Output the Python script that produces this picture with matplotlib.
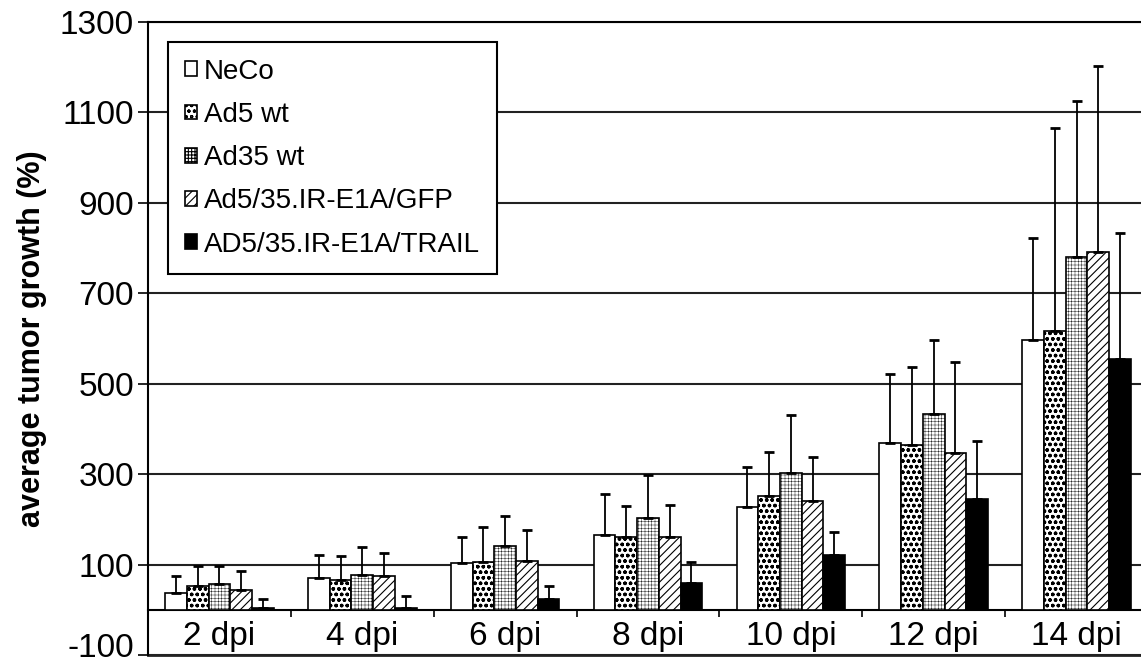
import numpy as np
import matplotlib.transforms as mtransforms
from matplotlib import pyplot as plt

plt.rcParams['font.family'] = ['Liberation Sans', 'DejaVu Sans']
plt.rcParams['axes.unicode_minus'] = False

days = ['2 dpi', '4 dpi', '6 dpi', '8 dpi', '10 dpi', '12 dpi', '14 dpi']
groups = ['NeCo', 'Ad5 wt', 'Ad35 wt', 'Ad5/35.IR-E1A/GFP', 'AD5/35.IR-E1A/TRAIL']

# mean growth (%) and upper error (SD)
neco = [38, 70, 103, 166, 228, 369, 597]
ad5 = [52, 66, 105, 160, 251, 365, 616]
ad35 = [58, 77, 140, 204, 302, 433, 781]
gfp = [44, 74, 108, 160, 240, 347, 792]
trail = [3, 3, 24, 59, 122, 245, 555]

neco_err = [37, 52, 57, 90, 88, 153, 226]
ad5_err = [45, 52, 79, 70, 99, 173, 449]
ad35_err = [39, 62, 68, 93, 129, 163, 345]
gfp_err = [41, 51, 69, 72, 97, 200, 410]
trail_err = [20, 28, 29, 46, 51, 129, 279]

means = [neco, ad5, ad35, gfp, trail]
errs = [neco_err, ad5_err, ad35_err, gfp_err, trail_err]
faces = ['white', 'white', 'white', 'white', 'black']
hatches = ['', 'ooo', '+++++', '////', '']
hatch_lw = [0.8, 1.0, 0.3, 0.8, 0.8]

fig = plt.figure(figsize=(11.41, 6.66), dpi=100)
ax = fig.add_axes([148 / 1141, 11 / 666, 1000 / 1141, 633 / 666])

x = np.arange(len(days))
w = 0.152
for j in range(len(groups)):
    xs = x + (j - 2) * w
    plt.rcParams['hatch.linewidth'] = hatch_lw[j]
    bars = ax.bar(xs, means[j], w, color=faces[j], edgecolor='black', linewidth=1.2,
                  hatch=hatches[j], label=groups[j], zorder=3)
    for b in bars:
        if hasattr(b, 'set_hatch_linewidth'):
            b.set_hatch_linewidth(hatch_lw[j])
    ax.errorbar(xs, means[j], yerr=[np.zeros(len(days)), errs[j]], fmt='none',
                ecolor='black', elinewidth=1.3, capsize=3.5, capthick=2, zorder=4)

# Format plot
ax.set_xlim(-0.5, len(days) - 0.5)
ax.set_ylim(-100, 1300)
ax.set_yticks(np.arange(-100, 1301, 200))
ax.yaxis.grid(True, color='#222222', linewidth=1.5)
ax.set_axisbelow(True)
ax.tick_params(axis='y', labelsize=24, length=7, width=1.2, pad=3)

ax.spines['bottom'].set_position(('data', 0))
ax.spines['right'].set_visible(False)
for s in ['left', 'bottom', 'top']:
    ax.spines[s].set_linewidth(1.5)
ax.axhline(-100, color='#222222', linewidth=2, clip_on=False)
ax.set_xticks(x)
ax.set_xticklabels(days)
ax.set_xticks(x[:-1] + 0.5, minor=True)
ax.tick_params(axis='x', which='major', length=0, labelsize=24, pad=8)
ax.tick_params(axis='x', which='minor', length=5, width=1.2)

# nudge the bottom tick label up so it stays inside the image
lab = ax.get_yticklabels()[0]
lab.set_transform(lab.get_transform() +
                  mtransforms.ScaledTranslation(0, 7 / 72, fig.dpi_scale_trans))

ax.set_ylabel('average tumor growth (%)', fontsize=22, fontweight='bold')
ax.yaxis.set_label_coords(-0.101, 0.5)

leg = ax.legend(loc='upper left', bbox_to_anchor=(168 / 1141, 1 - 42 / 666),
                bbox_transform=fig.transFigure, borderaxespad=0, fontsize=20,
                handlelength=0.45, handleheight=0.45, handletextpad=0.25,
                labelspacing=0.62, borderpad=0.6, fancybox=False, framealpha=1,
                edgecolor='black')
leg.get_frame().set_linewidth(1.5)

plt.savefig('out.png', dpi=100)
